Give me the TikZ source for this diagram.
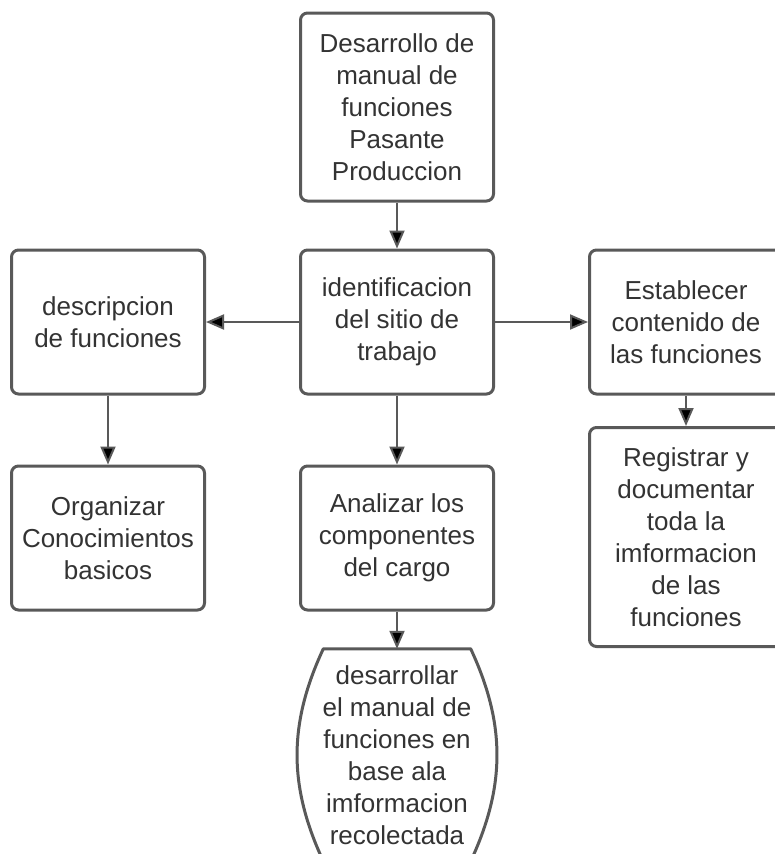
\documentclass[tikz,border=0pt]{standalone}
\usepackage{fontspec}
\setmainfont{Liberation Sans}
\usetikzlibrary{arrows.meta, positioning}
\definecolor{linea}{HTML}{595959}
\definecolor{texto}{HTML}{333333}

\begin{document}
\begin{tikzpicture}[x=1pt, y=1pt, on grid, node distance=216pt and 289pt,
        letra/.style={text=texto, align=center, minimum width=193pt, font=\fontsize{26}{32}\selectfont},
        caja/.style={letra, draw=linea, line width=3pt, rounded corners=7pt, fill=white},
        borde/.style={draw=linea, line width=3pt, line join=round, fill=white},
        flecha/.style={->, draw=linea, line width=2pt},
        >={Triangle[length=18pt, width=15pt]}]
        \useasboundingbox (0,0) rectangle (775,-854);
        \clip (0,0) rectangle (775,-854);
        \node[caja, minimum height=188pt] (top)   at (397,-107)      {Desarrollo de\\manual de\\funciones\\Pasante\\Produccion};
        \node[caja, minimum height=144pt] (ident) [below=215pt of top] {identificacion\\del sitio de\\trabajo};
        \node[caja, minimum height=144pt] (desc)  [left=of ident]     {descripcion\\de funciones};
        \node[caja, minimum height=144pt] (estab) [right=of ident]    {Establecer\\contenido de\\las funciones};
        \node[caja, minimum height=144pt] (organ) [below=of desc]     {Organizar\\Conocimientos\\basicos};
        \node[caja, minimum height=144pt] (analiz) [below=of ident]   {Analizar los\\componentes\\del cargo};
        \node[caja, minimum height=219pt] (regis) [below=215pt of estab] {Registrar y\\documentar\\toda la\\imformacion\\de las\\funciones};
        % terminal con lados curvos
        \node[letra, minimum height=212pt] (desarr) [below=217pt of analiz] {};
        \draw[borde] ([xshift=23pt]desarr.north west) -- ([xshift=-23pt]desarr.north east)
          to[bend left=25] ([xshift=-23pt]desarr.south east) -- ([xshift=23pt]desarr.south west)
          to[bend left=25] cycle;
        \node[letra] at (desarr) {desarrollar\\el manual de\\funciones en\\base ala\\imformacion\\recolectada};
        \path[flecha]
          (top)    edge (ident)
          (ident)  edge (desc)
                   edge (estab)
                   edge (analiz)
          (desc)   edge (organ)
          (estab)  edge (regis)
          (analiz) edge (desarr);
\end{tikzpicture}
\end{document}
